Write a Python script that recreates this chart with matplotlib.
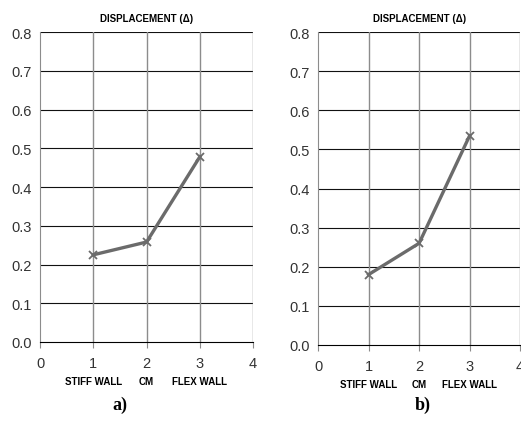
import matplotlib.pyplot as plt

# Datos
x_pos = [1, 2, 3]
cat_labels = ['STIFF WALL', 'CM', 'FLEX WALL']
disp_a = [0.225, 0.258, 0.478]
disp_b = [0.180, 0.260, 0.535]
y_ticks = [0.0, 0.1, 0.2, 0.3, 0.4, 0.5, 0.6, 0.7, 0.8]
x_ticks = [0, 1, 2, 3, 4]

narrow = ['Liberation Sans Narrow', 'Liberation Sans', 'DejaVu Sans']

fig = plt.figure(figsize=(5.21, 4.35), dpi=100)
ax_a = fig.add_axes([0.0768, 0.2115, 0.409, 0.7126])
ax_b = fig.add_axes([0.6104, 0.2046, 0.388, 0.7195])


def panel(ax, y, letter, label_x):
    ax.plot(x_pos, y, color='#6b6b6b', lw=2.4, marker='x', ms=6, mew=1.3,
            zorder=3)
    ax.set_xlim(0, 4)
    ax.set_ylim(0, 0.8)
    ax.set_xticks(x_ticks)
    ax.set_yticks(y_ticks)
    ax.set_yticklabels(['%.1f' % v for v in y_ticks], family=narrow,
                       fontsize=10.5, color='#333333')
    ax.set_xticklabels([str(v) for v in x_ticks], family=narrow,
                       fontsize=10.5, color='#333333')
    for v in y_ticks[1:]:
        ax.axhline(v, color='#111111', lw=0.8, zorder=1)
    for v in x_ticks[1:]:
        ax.axvline(v, color='#8c8c8c', lw=1.0, zorder=1)
    for s in ['top', 'right']:
        ax.spines[s].set_visible(False)
    ax.spines['left'].set_color('#8c8c8c')
    ax.spines['bottom'].set_color('black')
    ax.spines['bottom'].set_linewidth(0.8)
    ax.tick_params(axis='x', direction='out', length=4, color='#8c8c8c', pad=6)
    ax.tick_params(axis='y', length=0, pad=6)
    for xp, lab in zip(x_pos, cat_labels):
        ax.text(xp, -0.1, lab, ha='center', va='center', fontsize=7,
                fontweight='bold', family=narrow, transform=ax.transData,
                clip_on=False)
    ax.set_title('DISPLACEMENT (\u0394)', fontsize=7, fontweight='bold',
                 family=narrow, pad=8)
    fig.text(label_x, 1 - 405 / 435, letter, ha='center', va='center',
             fontsize=13, fontweight='bold', family='Liberation Serif')


panel(ax_a, disp_a, 'a)', 120 / 521)
panel(ax_b, disp_b, 'b)', 423 / 521)

fig.savefig('out.png', dpi=100)
